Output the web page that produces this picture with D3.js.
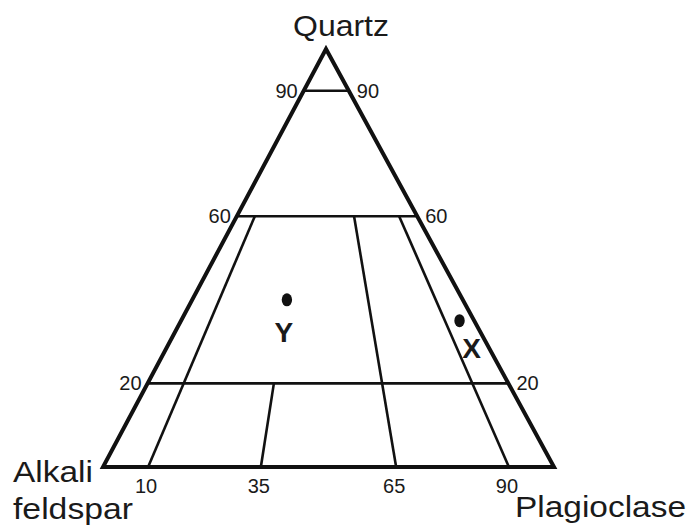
<!DOCTYPE html>
<html>
<head>
<meta charset="utf-8">
<script src="https://cdn.jsdelivr.net/npm/d3@7"></script>
<style>
    body { margin: 0; background: #fff; }
    text { font-family: "Liberation Sans", Arial, sans-serif; fill: #1a1a1a; }
</style>
</head>
<body>
<div id="chart"></div>
<script>
// corner names of the ternary plot
const apexLabel = "Quartz";
const leftLabel = ["Alkali", "feldspar"];
const rightLabel = "Plagioclase";

// horizontal quartz levels (% Q)
const quartzLevels = [90, 60, 20];

// dividing lines: plagioclase ratio P/(A+P) and the quartz level they start at
const ratioTicks = [10, 35, 65, 90];
const ratioTopQ = [60, 20, 60, 60];

// samples: quartz % and P/(A+P) %
const sampleNames = ["Y", "X"];
const sampleQ = [40, 35];
const sampleRatio = [35, 95];

const width = 691, height = 530;

const svg = d3.select("#chart")
    .append("svg")
    .attr("width", width)
    .attr("height", height);

// scales: quartz % -> y, and the two triangle edges -> x
const yQ = d3.scaleLinear().domain([0, 100]).range([467, 49]);
const xLeft = d3.scaleLinear().domain([0, 100]).range([103, 326]);
const xRight = d3.scaleLinear().domain([0, 100]).range([554, 326]);
const ratio = d3.scaleLinear().domain([0, 100]).range([0, 1]);

function pos(q, r){
    let x = d3.interpolateNumber(xLeft(q), xRight(q))(ratio(r));
    return [x, yQ(q)];
}

const line = d3.line();

// horizontal quartz lines
svg.selectAll("path.q")
    .data(quartzLevels)
    .enter()
    .append("path")
    .attr("class", "q")
    .attr("d", (d)=>line([pos(d, 0), pos(d, 100)]))
    .attr("stroke", "#111")
    .attr("stroke-width", 2.6)
    .attr("fill", "none");

// ratio lines
svg.selectAll("path.r")
    .data(ratioTicks)
    .enter()
    .append("path")
    .attr("class", "r")
    .attr("d", (d, i)=>line([pos(ratioTopQ[i], d), pos(0, d)]))
    .attr("stroke", "#111")
    .attr("stroke-width", 2.6)
    .attr("fill", "none");

// outer triangle
svg.append("path")
    .attr("d", line([pos(100, 0), pos(0, 0), pos(0, 100)]) + "Z")
    .attr("stroke", "#111")
    .attr("stroke-width", 4)
    .attr("stroke-linejoin", "miter")
    .attr("fill", "none");

// quartz tick labels on both edges
svg.selectAll("text.ql")
    .data(quartzLevels)
    .enter()
    .append("text")
    .attr("class", "ql")
    .attr("x", (d)=>xLeft(d) - 6)
    .attr("y", (d)=>yQ(d) + 7)
    .attr("text-anchor", "end")
    .attr("font-size", 20)
    .text((d)=>d);

svg.selectAll("text.qr")
    .data(quartzLevels)
    .enter()
    .append("text")
    .attr("class", "qr")
    .attr("x", (d)=>xRight(d) + 8)
    .attr("y", (d)=>yQ(d) + 7)
    .attr("text-anchor", "start")
    .attr("font-size", 20)
    .text((d)=>d);

// ratio tick labels along the base
svg.selectAll("text.rl")
    .data(ratioTicks)
    .enter()
    .append("text")
    .attr("class", "rl")
    .attr("x", (d)=>pos(0, d)[0] - 2)
    .attr("y", yQ(0) + 26)
    .attr("text-anchor", "middle")
    .attr("font-size", 20)
    .text((d)=>d);

// corner labels
svg.append("text")
    .attr("x", 293).attr("y", 36)
    .attr("font-size", 30)
    .attr("textLength", 96).attr("lengthAdjust", "spacingAndGlyphs")
    .text(apexLabel);

svg.append("text")
    .attr("x", 13).attr("y", 482)
    .attr("font-size", 30)
    .attr("textLength", 80).attr("lengthAdjust", "spacingAndGlyphs")
    .text(leftLabel[0]);

svg.append("text")
    .attr("x", 13).attr("y", 519)
    .attr("font-size", 30)
    .attr("textLength", 120).attr("lengthAdjust", "spacingAndGlyphs")
    .text(leftLabel[1]);

svg.append("text")
    .attr("x", 515).attr("y", 517)
    .attr("font-size", 30)
    .attr("textLength", 171).attr("lengthAdjust", "spacingAndGlyphs")
    .text(rightLabel);

// samples
svg.selectAll("ellipse.s")
    .data(sampleNames)
    .enter()
    .append("ellipse")
    .attr("class", "s")
    .attr("cx", (d, i)=>pos(sampleQ[i], sampleRatio[i])[0])
    .attr("cy", (d, i)=>pos(sampleQ[i], sampleRatio[i])[1])
    .attr("rx", 5.2)
    .attr("ry", 6.5)
    .attr("fill", "#111");

const labelDx = [-3, 12];
const labelDy = [42, 37];
svg.selectAll("text.s")
    .data(sampleNames)
    .enter()
    .append("text")
    .attr("class", "s")
    .attr("x", (d, i)=>pos(sampleQ[i], sampleRatio[i])[0] + labelDx[i])
    .attr("y", (d, i)=>pos(sampleQ[i], sampleRatio[i])[1] + labelDy[i])
    .attr("text-anchor", "middle")
    .attr("font-size", 28)
    .attr("font-weight", "bold")
    .text((d)=>d);
</script>
</body>
</html>
